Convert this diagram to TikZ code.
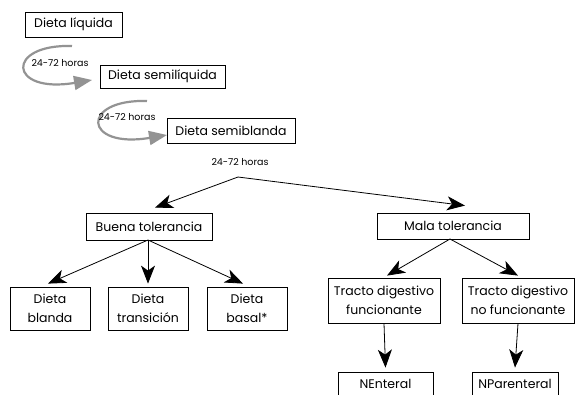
\documentclass[tikz,border=0pt]{standalone}
\usepackage{fontspec}
\setmainfont{Poppins}
\usetikzlibrary{arrows.meta}
\begin{document}
\begin{tikzpicture}[x=1pt,y=-1pt,
  box/.style={draw=black,line width=0.8pt,inner sep=0pt,align=center,font=\fontsize{12.5}{18.5}\selectfont},
  flow/.style={line width=0.8pt,-{Stealth[length=18pt,width=14pt,inset=5pt]}},
  loop/.style={draw=gray!85,line width=2.2pt,-{Triangle[length=18pt,width=14pt]}},
  hours/.style={font=\fontsize{9.5}{10}\selectfont,inner sep=0pt}]
\useasboundingbox (0,0) rectangle (575,394);
\clip (0,0) rectangle (575,394);

% diet progression
\node[box,minimum width=97pt,minimum height=25pt] (liq) at (73.5,24.5) {Dieta líquida};
\node[box,minimum width=125pt,minimum height=23pt] (semiliq) at (162.5,76.5) {Dieta semilíquida};
\node[box,minimum width=128pt,minimum height=25pt] (semibl) at (231,130.5) {Dieta semiblanda};

% timing loops
\coordinate (l1a) at (72,46);
\coordinate (l1b) at (92,80);
\draw[loop] (l1a) .. controls (5,44) and (8,94) .. (l1b);
\node[hours] (h1) at (60,63) {24-72 horas};
\coordinate (l2a) at (147,101);
\coordinate (l2b) at (167,135);
\draw[loop] (l2a) .. controls (80,99) and (83,149) .. (l2b);
\node[hours] (h2) at (127,117) {24-72 horas};

% split after the soft diet
\node[hours] (h3) at (240,162) {24-72 horas};
\coordinate (split) at (238,177);

\node[box,minimum width=126pt,minimum height=27pt] (buena) at (149,226.5) {Buena tolerancia};
\node[box,minimum width=152pt,minimum height=26pt] (mala) at (453,226) {Mala tolerancia};
\draw[flow] (split) -- ([xshift=6pt,yshift=5pt]buena.north);
\draw[flow] (split) -- ([xshift=12pt,yshift=7pt]mala.north);

% good tolerance branch
\node[box,minimum width=80pt,minimum height=43pt] (blanda) at (50,308.5) {Dieta\\blanda};
\node[box,minimum width=80pt,minimum height=43pt] (trans) at (148,308.5) {Dieta\\transición};
\node[box,minimum width=80pt,minimum height=43pt] (basal) at (247,308.5) {Dieta\\basal*};
\coordinate (bsrc) at (148,240);
\draw[flow] (bsrc) -- ([xshift=-2pt,yshift=3pt]blanda.north);
\draw[flow] (bsrc) -- ([yshift=3pt]trans.north);
\draw[flow] (bsrc) -- ([xshift=-4pt,yshift=3pt]basal.north);

% poor tolerance branch
\node[box,minimum width=112pt,minimum height=45pt] (func) at (384,300.5) {Tracto digestivo\\funcionante};
\node[box,minimum width=112pt,minimum height=45pt] (nofunc) at (518,300.5) {Tracto digestivo\\no funcionante};
\coordinate (msrc) at (450,239);
\draw[flow] (msrc) -- ([xshift=3pt,yshift=2pt]func.north);
\draw[flow] (msrc) -- ([yshift=2pt]nofunc.north);

\node[box,minimum width=95pt,minimum height=40pt,text depth=17pt] (ent) at (385.5,392) {NEnteral};
\node[box,minimum width=86pt,minimum height=40pt,text depth=17pt] (par) at (515,392) {NParenteral};
\draw[flow] (func.south) -- ([yshift=4pt]ent.north);
\draw[flow] (nofunc.south) -- ([yshift=4pt]par.north);
\end{tikzpicture}
\end{document}
